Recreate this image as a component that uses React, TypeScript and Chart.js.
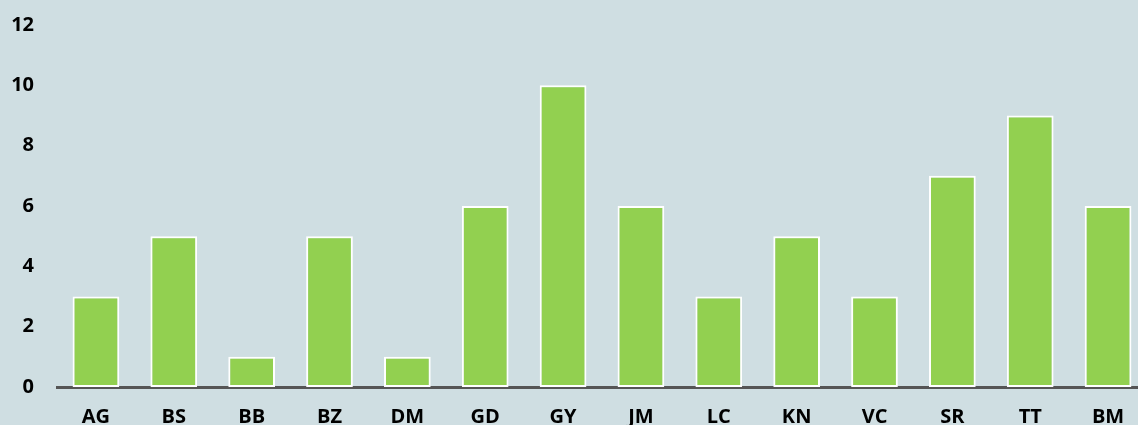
import React, { useEffect, useRef } from "react";
import { Chart, registerables } from "chart.js";

Chart.register(...registerables);

const categories = ["AG", "BS", "BB", "BZ", "DM", "GD", "GY", "JM", "LC", "KN", "VC", "SR", "TT", "BM"];
const values = [3, 5, 1, 5, 1, 6, 10, 6, 3, 5, 3, 7, 9, 6];
const yTicks = [0, 2, 4, 6, 8, 10, 12];

export default function App() {
  const ref = useRef<HTMLCanvasElement>(null);
  useEffect(() => {
    document.body.style.margin = "0";
    const font = { family: "'Open Sans', sans-serif", size: 20, weight: "bold" as const };
    const chart = new Chart(ref.current!, {
      type: "bar",
      data: {
        labels: categories,
        datasets: [
          {
            data: values,
            backgroundColor: "#92D050",
            borderColor: "#FFFFFF",
            borderWidth: 2,
            borderSkipped: false,
            barPercentage: 0.6,
            categoryPercentage: 1,
          },
        ],
      },
      options: {
        responsive: false,
        animation: false,
        layout: { padding: { top: 25, right: 0, left: 0, bottom: 0 } },
        plugins: { legend: { display: false }, tooltip: { enabled: false } },
        scales: {
          x: {
            grid: { display: false, drawTicks: false },
            border: { display: true, color: "#555555", width: 3 },
            ticks: { color: "#000", font, padding: 18 },
            afterFit: (s: any) => { s.height = 38; },
          },
          y: {
            min: 0,
            max: 12,
            afterBuildTicks: (s: any) => { s.ticks = yTicks.map((v) => ({ value: v })); },
            grid: { display: false, drawTicks: false },
            border: { display: false },
            ticks: { color: "#000", font, padding: 23 },
            afterFit: (s: any) => { s.width = 57; s.paddingTop = 0; s.paddingBottom = 0; },
          },
        },
      },
    });
    return () => chart.destroy();
  }, []);
  return (
    <div style={{ position: "fixed", left: 0, top: 0, width: 1138, height: 425, overflow: "hidden", background: "#CFDEE2" }}>
      <canvas ref={ref} width={1147} height={425} />
    </div>
  );
}
